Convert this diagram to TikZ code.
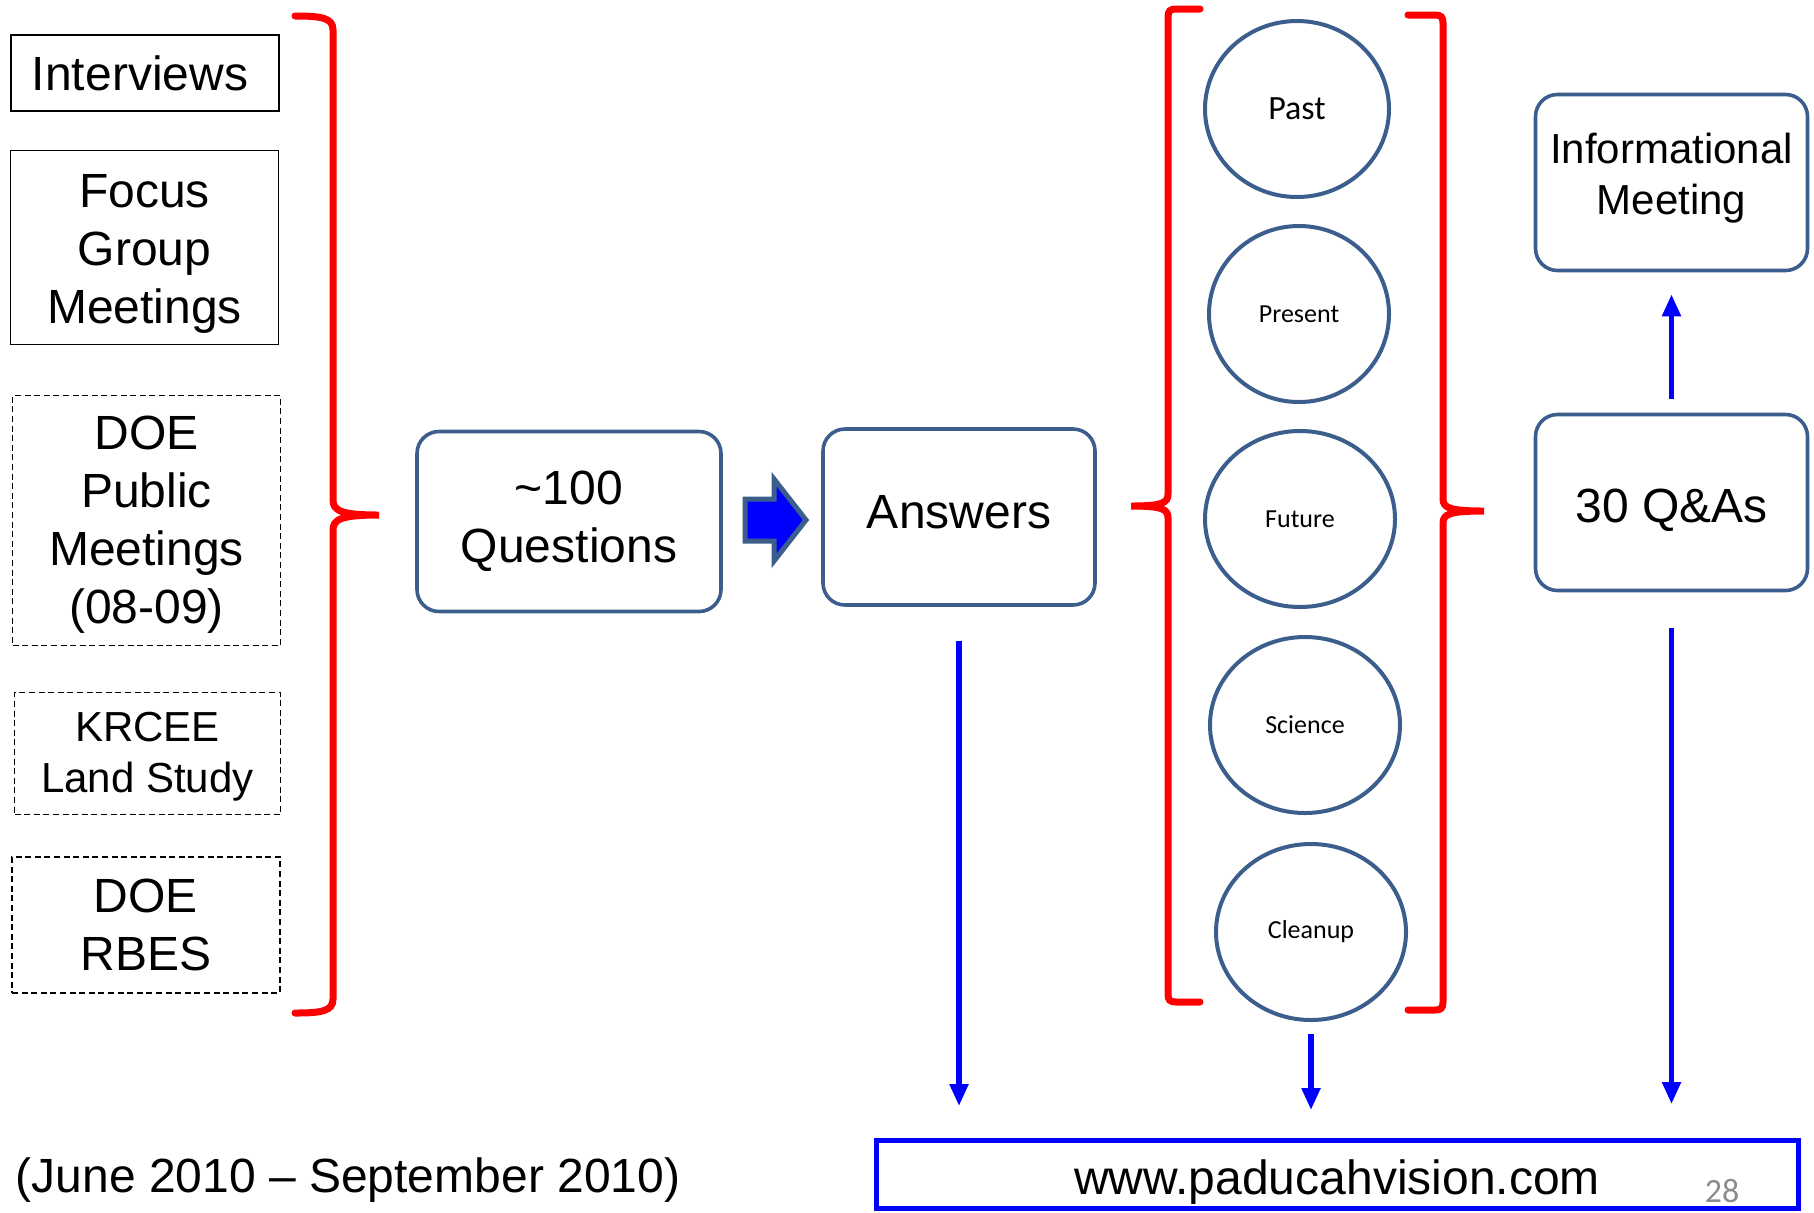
\documentclass[tikz,border=0pt]{standalone}
\usepackage{fontspec}
\setmainfont{Liberation Sans}
\newfontfamily\calibfont{Carlito}
\usepackage{xcolor}
\usetikzlibrary{arrows.meta,shapes.geometric}
\definecolor{boxblue}{HTML}{3B5E8C}
\definecolor{pagegray}{HTML}{8C8C8C}

\begin{document}
\begin{tikzpicture}[
  x=0.5pt, y=-0.5pt,
  every node/.style={inner sep=0pt, align=center},
  src/.style={draw, line width=0.9pt, font=\fontsize{24}{29}\selectfont},
  srcdash/.style={draw, line width=0.7pt, dash pattern=on 3pt off 1.8pt, font=\fontsize{24}{29}\selectfont},
  block/.style={draw=boxblue, line width=1.8pt, rounded corners=11pt, minimum width=136pt, minimum height=88pt, font=\fontsize{24}{29}\selectfont},
  topic/.style={ellipse, draw=boxblue, line width=2pt, minimum height=88pt, font=\calibfont\fontsize{13}{15}\selectfont},
  brace/.style={draw=red, line width=3.5pt, line cap=round},
  flow/.style={draw=blue, line width=2.6pt, -{Triangle[length=11pt,width=9pt]}}
]
\useasboundingbox (0,0) rectangle (1814,1212);

% sources
\node[src, minimum width=134pt, minimum height=38pt] (intv) at (145,73) {Interviews\hspace{5pt}};
\node[src, minimum width=134pt, minimum height=97pt] (focus) at (144.5,247.5) {Focus\\Group\\Meetings\\[-30pt]};
\node[srcdash, minimum width=134pt, minimum height=125pt] (doepub) at (146.5,520.5) {DOE\\Public\\Meetings\\(08-09)\\[-28.6pt]};
\node[srcdash, minimum width=133pt, minimum height=61pt, font=\fontsize{21}{25.5}\selectfont] (krcee) at (147.5,753.5) {KRCEE\\Land Study\\[-24.5pt]};
\node[srcdash, minimum width=134pt, minimum height=68pt] (rbes) at (146,925) {DOE\\RBES};

\draw[brace] (295,16) .. controls (322,16) and (333,18) .. (333,30) -- (333,500)
  .. controls (333,511) and (342,515) .. (379,515)
  .. controls (342,515) and (333,519) .. (333,530) -- (333,999)
  .. controls (333,1011) and (322,1013) .. (295,1013);

% middle
\node[block, minimum width=152pt, minimum height=90pt] (quest) at (569,521.5) {\textasciitilde100\\Questions};
\node[block, text height=17pt, text depth=6pt] (ans) at (959,517) {Answers};
\draw[draw=boxblue, fill=blue, line width=2.5pt, line join=miter]
  (745,499) -- (774,499) -- (774,479) -- (806,520) -- (774,561) -- (774,541) -- (745,541) -- cycle;

% topics
\node[topic, minimum width=92pt, font=\calibfont\fontsize{17}{20}\selectfont] (past) at (1297,109) {Past};
\node[topic, minimum width=90pt] (pres) at (1299,314) {Present};
\node[topic, minimum width=95pt] (fut) at (1300,519) {Future};
\node[topic, minimum width=95pt] (sci) at (1305,725) {Science};
\node[topic, minimum width=95pt] (clean) at (1311,932) {Cleanup};

\draw[brace] (1200,9) -- (1176,9) .. controls (1170,9) and (1168,11) .. (1168,17) -- (1168,494)
  .. controls (1168,503) and (1162,506) .. (1131,506)
  .. controls (1162,506) and (1168,509) .. (1168,518) -- (1168,994)
  .. controls (1168,1000) and (1170,1002) .. (1176,1002) -- (1200,1002);
\draw[brace] (1408,15) -- (1435,15) .. controls (1441,15) and (1443,17) .. (1443,23) -- (1443,499)
  .. controls (1443,508) and (1450,511) .. (1484,511)
  .. controls (1450,511) and (1443,514) .. (1443,523) -- (1443,1002)
  .. controls (1443,1008) and (1441,1010) .. (1435,1010) -- (1408,1010);

% right
\node[block, font=\fontsize{21}{25.5}\selectfont] (info) at (1671.5,182.5) {Informational\\Meeting\\[-16.5pt]};
\node[block, text height=19.5pt, text depth=0pt] (qa) at (1671.5,502.5) {30 Q\&As};

% bottom
\node[draw=blue, line width=2.5pt, minimum width=461pt, minimum height=34pt, text height=20pt, text depth=0pt, font=\fontsize{24}{29}\selectfont] (web) at (1337,1174.5) {www.paducahvision.com};
\node[text=pagegray, font=\calibfont\fontsize{17}{20}\selectfont] (pgnum) at (1722,1191) {28};
\node[font=\fontsize{24}{29}\selectfont] (period) at (348,1180) {(June 2010 -- September 2010)};

\draw[flow, shorten <=17pt, shorten >=16pt] (ans.south) -- (ans.south |- web.north);
\draw[flow, shorten <=6pt, shorten >=14pt] (clean.south) -- (clean.south |- web.north);
\draw[flow, shorten <=18pt, shorten >=17pt] (qa.south) -- (qa.south |- web.north);
\draw[flow, shorten <=7pt, shorten >=11pt] (qa.north) -- (info.south);
\end{tikzpicture}
\end{document}
